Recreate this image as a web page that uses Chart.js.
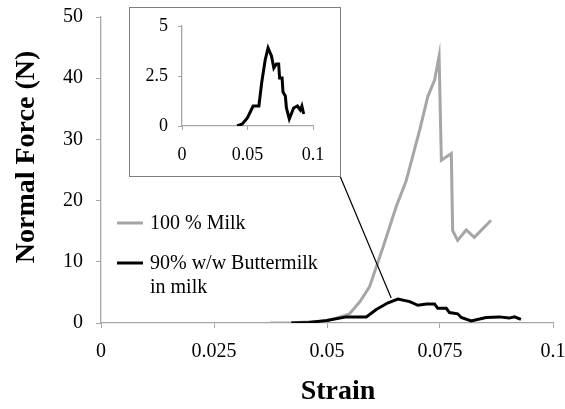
<!DOCTYPE html>
<html>
<head>
<meta charset="utf-8">
<script src="https://cdn.jsdelivr.net/npm/chart.js@4/dist/chart.umd.min.js"></script>
<style>
  body { margin: 0; background: #fff; }
  #wrap { position: relative; width: 565px; height: 409px; }
  #inset {
    position: absolute; left: 129px; top: 7px; width: 212px; height: 170px;
    box-sizing: border-box; border: 1px solid #7f7f7f; background: #fff;
  }
</style>
</head>
<body>
<div id="wrap">
  <canvas id="mainChart" width="565" height="409"></canvas>
  <div id="inset"><canvas id="insetChart" width="210" height="168"></canvas></div>
</div>
<script>
// 100 % milk
var milkStrain = [0.0374, 0.0421, 0.0499, 0.055, 0.0573, 0.0594, 0.0624, 0.0653, 0.0675, 0.0705,
                  0.0723, 0.0738, 0.0748, 0.0753, 0.0775, 0.0778, 0.0789, 0.0808, 0.0826, 0.0863];
var milkForce  = [0, 0.05, 0.3, 1.5, 3.5, 5.9, 12.4, 19, 23.2, 31.5,
                  37, 39.7, 43.6, 26.6, 27.7, 15.1, 13.5, 15.2, 14.0, 16.8];

// 90% w/w buttermilk in milk
var bmStrain = [0.0421, 0.046, 0.0499, 0.0543, 0.0587, 0.0609, 0.0635, 0.0657, 0.0683, 0.0701,
                0.072, 0.0738, 0.0745, 0.0764, 0.0771, 0.0789, 0.0797, 0.0819, 0.0852, 0.0881,
                0.0903, 0.0915, 0.0929];
var bmForce  = [0, 0.1, 0.4, 1.0, 1.0, 2.2, 3.3, 3.9, 3.5, 2.9,
                3.1, 3.1, 2.4, 2.4, 1.7, 1.5, 0.9, 0.35, 0.9, 1.0,
                0.8, 1.0, 0.6];

var seriesLabels = [['100 % Milk'], ['90% w/w Buttermilk', 'in milk']];
var xTitle = 'Strain';
var yTitle = 'Normal Force (N)';
var xTicks = [0, 0.025, 0.05, 0.075, 0.1];
var yTicks = [0, 10, 20, 30, 40, 50];
var insetXTicks = [0, 0.05, 0.1];
var insetYTicks = [0, 2.5, 5];
var insetAnchor = [0.0642, 4.1]; // where the zoom line meets the curve

function pts(xs, ys) {
    return xs.map((x, i) => ({ x: x, y: ys[i] }));
}

var serif = 'Liberation Serif';
var axisGrey = '#a6a6a6';

// legend drawn inside the plot, left side
var legendPlugin = {
    id: 'innerLegend',
    afterDatasetsDraw(chart) {
        var ctx = chart.ctx, a = chart.chartArea;
        var rows = [a.top + 206, a.top + 246];
        ctx.save();
        ctx.font = '20px ' + serif;
        ctx.textBaseline = 'middle';
        ctx.fillStyle = '#000';
        chart.data.datasets.forEach((ds, i) => {
            ctx.strokeStyle = ds.borderColor;
            ctx.lineWidth = 3;
            ctx.beginPath();
            ctx.moveTo(a.left + 16, rows[i]);
            ctx.lineTo(a.left + 42, rows[i]);
            ctx.stroke();
            ds.label.forEach((line, j) => ctx.fillText(line, a.left + 49, rows[i] + 1 + j * 24));
        });
        ctx.restore();
    }
};

// axis titles (Excel puts them a bit off-centre)
var titlePlugin = {
    id: 'axisTitles',
    afterDraw(chart) {
        var ctx = chart.ctx, a = chart.chartArea;
        ctx.save();
        ctx.font = 'bold 28px ' + serif;
        ctx.fillStyle = '#000';
        ctx.textAlign = 'center';
        ctx.textBaseline = 'middle';
        ctx.fillText(xTitle, (a.left + a.right) / 2 + 11, chart.height - 17);
        ctx.translate(27, (a.top + a.bottom) / 2 - 13);
        ctx.rotate(-Math.PI / 2);
        ctx.fillText(yTitle, 0, 0);
        ctx.restore();
    }
};

// line from the inset box corner down to the curve
var connectorPlugin = {
    id: 'connector',
    afterDatasetsDraw(chart) {
        var box = document.getElementById('inset');
        var ctx = chart.ctx;
        var px = chart.scales.x.getPixelForValue(insetAnchor[0]);
        var py = chart.scales.y.getPixelForValue(insetAnchor[1]);
        ctx.save();
        ctx.strokeStyle = '#000';
        ctx.lineWidth = 1.2;
        ctx.beginPath();
        ctx.moveTo(box.offsetLeft + box.offsetWidth - 1, box.offsetTop + box.offsetHeight - 1);
        ctx.lineTo(px, py);
        ctx.stroke();
        ctx.restore();
    }
};

function axis(min, max, ticks, fontSize, tl, pad, size, edge) {
    return {
        type: 'linear', min: min, max: max,
        afterBuildTicks: s => { s.ticks = ticks.map(v => ({ value: v })); },
        afterFit: s => {
            if (s.isHorizontal()) {
                s.height = size; s.paddingLeft = 0; s.paddingRight = edge;
            } else {
                s.width = size; s.paddingTop = 0; s.paddingBottom = 0;
            }
        },
        ticks: { font: { family: serif, size: fontSize }, color: '#000', padding: pad,
                 callback: v => String(v) },
        grid: { drawOnChartArea: false, drawTicks: true, tickLength: tl, color: axisGrey },
        border: { color: axisGrey, width: 1.3 }
    };
}

var ctx1 = document.getElementById('mainChart').getContext('2d');
var mainChart = new Chart(ctx1, {
    type: 'scatter',
    data: {
        datasets: [{
            label: seriesLabels[0],
            data: pts(milkStrain, milkForce),
            showLine: true, borderColor: '#a6a6a6', borderWidth: 3,
            pointRadius: 0, tension: 0, order: 2
        }, {
            label: seriesLabels[1],
            data: pts(bmStrain, bmForce),
            showLine: true, borderColor: '#000', borderWidth: 3,
            pointRadius: 0, tension: 0, order: 1
        }]
    },
    options: {
        responsive: false, animation: false,
        layout: { padding: { top: 17, right: 0, bottom: 0, left: 0 } },
        scales: {
            x: axis(0, 0.1, xTicks, 20, 5, 12, 86, 12),
            y: axis(0, 50, yTicks, 20, 5, 13, 101, 0)
        },
        plugins: { legend: { display: false }, tooltip: { enabled: false } }
    },
    plugins: [legendPlugin, connectorPlugin, titlePlugin]
});

var ctx2 = document.getElementById('insetChart').getContext('2d');
var insetChart = new Chart(ctx2, {
    type: 'scatter',
    data: {
        datasets: [{
            data: pts(bmStrain, bmForce),
            showLine: true, borderColor: '#000', borderWidth: 3,
            pointRadius: 0, tension: 0
        }]
    },
    options: {
        responsive: false, animation: false,
        layout: { padding: { top: 18, right: 0, bottom: 0, left: 0 } },
        scales: {
            x: axis(0, 0.1, insetXTicks, 18, 4, 14, 50, 27),
            y: axis(0, 5, insetYTicks, 18, 4, 10, 52, 0)
        },
        plugins: { legend: { display: false }, tooltip: { enabled: false } }
    }
});
</script>
</body>
</html>
